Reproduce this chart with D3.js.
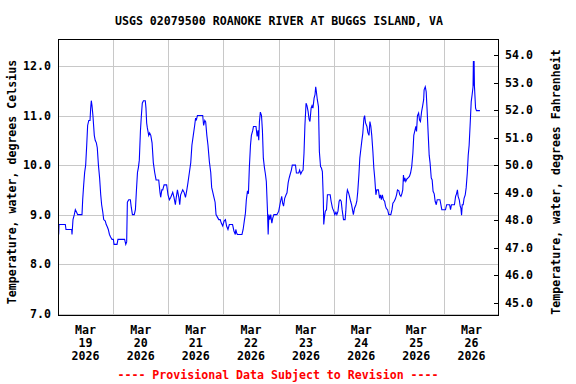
<!DOCTYPE html>
<html><head><meta charset="utf-8">
<script src="https://cdn.jsdelivr.net/npm/d3@7"></script>
<style>
html,body{margin:0;padding:0;background:#fff;}
svg text{font-family:"DejaVu Sans Mono",monospace;font-weight:bold;font-size:11.6px;fill:#000;}
</style></head>
<body><svg id="c" width="576" height="384"></svg>
<script>
const title = "USGS 02079500 ROANOKE RIVER AT BUGGS ISLAND, VA";
const yTitleLeft = "Temperature, water, degrees Celsius";
const yTitleRight = "Temperature, water, degrees Fahrenheit";
const note = "---- Provisional Data Subject to Revision ----";
const startDate = "2026-03-19T00:00";
const endDate = "2026-03-27T00:00";
const dayLabels = ["Mar 19 2026","Mar 20 2026","Mar 21 2026","Mar 22 2026","Mar 23 2026","Mar 24 2026","Mar 25 2026","Mar 26 2026"];
const celsiusTicks = [7,8,9,10,11,12];
const fahrenheitTicks = [45,46,47,48,49,50,51,52,53,54];
// hours since Mar 19 00:00
const hours = [0.29,0.44,3.19,3.48,5.95,6.1,6.53,7.1,7.55,8.1,8.57,10.45,10.75,11.18,11.6,12.05,12.5,12.9,13.4,13.94,14.23,14.5,14.8,15.2,15.8,16.2,16.7,17.1,17.6,18.1,18.6,19.0,19.5,19.9,20.6,21.0,21.5,21.9,22.4,22.9,23.5,24.1,24.4,25.7,26.1,29.0,29.5,29.9,30.2,30.8,31.5,31.9,32.4,33.2,33.7,34.1,34.6,35.0,35.4,35.9,36.3,36.7,37.2,38.0,38.3,38.6,
38.9,39.5,39.9,40.4,40.95,41.5,42.1,42.7,43.85,44.4,44.7,45.2,45.6,46.2,47.3,47.9,48.5,49.1,49.95,50.5,51.1,51.5,52.0,52.6,53.0,53.4,54.3,54.9,55.5,56.1,56.6,57.2,57.8,58.3,58.9,59.5,59.9,60.2,60.7,61.5,63.0,63.4,63.9,64.3,64.8,65.3,65.9,66.5,66.9,67.4,67.9,68.4,68.8,69.4,70.0,70.6,71.1,71.7,72.3,72.9,73.4,74.0,74.6,76.0,76.6,77.2,
77.4,77.8,78.1,80.1,80.6,81.1,81.6,82.0,82.5,82.9,83.3,83.8,84.2,84.8,85.1,86.2,86.7,87.1,87.4,87.7,88.1,88.6,89.0,89.4,89.9,90.3,90.7,91.2,91.5,91.8,92.2,92.6,93.1,93.5,94.0,94.7,95.3,96.1,96.5,96.9,97.4,97.8,98.2,98.7,99.3,99.7,100.2,100.6,101.0,101.6,102.0,103.4,103.8,104.8,105.2,105.7,106.2,106.7,107.1,107.5,108.0,108.4,108.9,109.3,109.7,110.2,110.6,111.0,111.5,111.9,112.2,112.5,112.9,113.4,113.8,114.3,114.7,115.1,115.5,115.7,
116.0,116.4,116.9,117.3,118.5,118.9,119.5,120.0,120.5,121.0,121.4,121.9,122.4,122.8,123.3,123.7,124.0,124.3,125.0,125.3,125.7,126.0,126.5,126.9,127.4,127.8,128.2,128.6,129.1,129.7,130.1,130.5,131.0,131.4,131.9,132.3,132.7,133.2,133.5,133.9,134.5,134.9,135.4,135.8,136.2,136.6,137.1,137.5,137.9,138.4,138.8,139.5,140.0,140.4,140.8,141.2,141.7,142.2,142.6,143.0,143.5,144.0,144.9,145.4,145.8,146.4,146.9,147.4,147.8,148.4,148.8,149.3,149.7,150.1,150.4,150.7,151.0,151.4,151.9,152.4,153.0,153.5,
154.0,154.5,154.9,155.4,155.8,156.1,156.5,157.0,157.4,157.8,158.3,158.7,159.2,159.4,159.9,160.3,160.7,161.2,161.6,162.0,162.5,162.9,163.3,163.8,164.2,164.7,165.1,166.3,166.7,167.1,168.7,169.2,170.5,170.9,171.3,172.6,173.1,173.5,173.9,174.2,174.7,175.1,175.4,175.7,176.0,176.4,176.8,177.3,177.7,178.2,178.6,179.0,179.5,179.9,180.3,180.7,180.85,181.0,181.15,181.3,181.8,182.2,183.7];
const tempC = [8.6,8.8,8.8,8.7,8.7,8.6,8.9,9.0,9.1,9.05,9.0,9.0,9.3,9.6,9.85,10.0,10.4,10.8,10.9,10.9,11.15,11.3,11.2,11.0,10.6,10.5,10.45,10.35,10.0,9.75,9.4,9.2,9.05,8.9,8.87,8.8,8.75,8.7,8.6,8.55,8.5,8.5,8.4,8.4,8.5,8.5,8.4,8.45,9.25,9.3,9.3,9.15,9.0,9.0,9.1,9.45,9.85,9.95,10.1,10.7,11.0,11.25,11.3,11.3,11.15,10.85,
10.75,10.6,10.65,10.6,10.45,10.05,9.85,9.7,9.7,9.45,9.35,9.5,9.5,9.6,9.6,9.4,9.3,9.35,9.45,9.35,9.2,9.35,9.5,9.35,9.2,9.4,9.5,9.45,9.35,9.5,9.65,9.85,10.05,10.4,10.6,10.8,10.95,10.9,11.0,11.0,11.0,10.8,10.9,10.87,10.6,10.4,10.07,9.85,9.55,9.45,9.35,9.25,9.0,8.95,8.9,8.9,8.83,8.77,8.87,8.9,8.77,8.7,8.8,8.8,8.67,8.6,
8.7,8.63,8.6,8.6,8.7,8.87,9.03,9.3,9.48,9.42,9.94,10.4,10.6,10.7,10.78,10.78,10.58,10.7,10.5,10.88,11.07,11.0,10.7,10.14,9.94,9.82,9.67,9.08,8.6,9.0,8.9,9.0,8.83,8.93,9.0,9.0,9.0,9.07,9.17,9.27,9.37,9.23,9.17,9.33,9.4,9.44,9.64,9.73,9.8,9.9,10.0,10.0,9.84,9.84,9.9,9.82,9.87,9.9,10.24,10.8,11.25,11.2,11.08,10.93,10.88,11.15,11.2,11.15,11.35,11.42,11.58,11.48,11.32,11.18,10.27,9.97,9.94,9.87,9.33,8.8,
8.95,9.07,9.1,9.4,9.4,9.27,9.13,9.08,9.0,9.05,9.0,9.07,9.27,9.3,9.27,9.1,9.0,8.9,8.9,9.07,9.4,9.5,9.44,9.37,9.27,9.2,9.1,9.0,9.13,9.2,9.27,9.46,9.8,10.14,10.34,10.5,10.64,10.95,11.0,10.85,10.78,10.66,10.6,10.88,10.78,10.6,10.27,9.94,9.74,9.4,9.5,9.5,9.33,9.4,9.3,9.4,9.3,9.27,9.17,9.12,9.1,9.0,9.0,9.1,9.23,9.27,9.32,9.4,9.5,9.48,9.4,9.37,9.42,9.5,9.8,9.67,9.74,9.67,9.72,9.74,9.77,9.84,
9.97,10.24,10.6,10.7,10.78,10.68,11.0,11.05,10.91,10.88,11.08,11.18,11.32,11.52,11.58,11.48,11.11,10.6,10.2,10.04,9.74,9.7,9.47,9.42,9.27,9.2,9.3,9.3,9.2,9.1,9.1,9.2,9.2,9.1,9.2,9.2,9.37,9.42,9.5,9.37,9.3,9.17,9.13,8.99,9.2,9.2,9.33,9.4,9.54,9.84,10.2,10.4,10.88,11.28,11.42,11.58,12.1,11.6,12.1,11.6,11.15,11.1,11.1];

const svg = d3.select("#c");
const L = 58, R = 499, T = 39, B = 316;
const t0 = new Date(startDate), t1 = new Date(endDate);
const x = d3.scaleTime().domain([t0, t1]).range([L, R]);
const y = d3.scaleLinear().domain([6.954, 12.545]).range([B, T]);
const yF = d3.scaleLinear().domain([6.954*1.8+32, 12.545*1.8+32]).range([B, T]);

// grid
const days = d3.timeDay.range(d3.timeDay.offset(t0,1), t1);
svg.append("g").selectAll("line").data(days).join("line")
  .attr("x1", d => Math.round(x(d))+0.5).attr("x2", d => Math.round(x(d))+0.5)
  .attr("y1", T).attr("y2", B).attr("stroke", "#c8c8c8").attr("stroke-width", 1);
svg.append("g").selectAll("line").data(celsiusTicks).join("line")
  .attr("x1", L).attr("x2", R)
  .attr("y1", d => Math.round(y(d))+0.5).attr("y2", d => Math.round(y(d))+0.5)
  .attr("stroke", "#c8c8c8").attr("stroke-width", 1);

// data line
const data = hours.map((h,i) => ({t: new Date(t0.getTime() + h*3600e3), v: tempC[i]}));
svg.append("path").datum(data)
  .attr("d", d3.line().x(d => x(d.t)).y(d => y(d.v)))
  .attr("fill", "none").attr("stroke", "#0000ff").attr("stroke-width", 1.1);

// frame
svg.append("rect").attr("x", L+0.5).attr("y", T+0.5).attr("width", R-L-1).attr("height", B-T-1)
  .attr("fill", "none").attr("stroke", "#000").attr("stroke-width", 1);

// right ticks (inward)
svg.append("g").selectAll("line").data(fahrenheitTicks).join("line")
  .attr("x1", R-5).attr("x2", R)
  .attr("y1", d => Math.round(yF(d))+0.5).attr("y2", d => Math.round(yF(d))+0.5)
  .attr("stroke", "#000");

// left tick labels
svg.append("g").selectAll("text").data(celsiusTicks).join("text")
  .attr("x", 51).attr("y", d => y(d)+4).attr("text-anchor", "end")
  .text(d => d3.format(".1f")(d));
// right tick labels
svg.append("g").selectAll("text").data(fahrenheitTicks).join("text")
  .attr("x", 505).attr("y", d => yF(d)+4).attr("text-anchor", "start")
  .text(d => d3.format(".1f")(d));

// x labels
const noons = d3.timeDay.range(t0, t1).map(d => new Date(d.getTime() + 12*3600e3));
const xl = svg.append("g").selectAll("text").data(noons).join("text")
  .attr("text-anchor", "middle");
xl.each(function(d,i){
  const parts = dayLabels[i].split(" ");
  const s = d3.select(this);
  [330,343,356].forEach((yy,k) => {
    s.append("tspan").attr("x", x(d)).attr("y", yy+4).text(parts[k]);
  });
});

// title
svg.append("text").attr("x", 279).attr("y", 25).attr("text-anchor", "middle").text(title);
// axis titles
svg.append("text").attr("transform", "translate(15.5,182) rotate(-90)").attr("text-anchor", "middle").text(yTitleLeft);
svg.append("text").attr("transform", "translate(560,182) rotate(-90)").attr("text-anchor", "middle").text(yTitleRight);
// note
svg.append("text").attr("x", 278).attr("y", 379).attr("text-anchor", "middle").style("fill", "#ff0000").text(note);
</script></body></html>
